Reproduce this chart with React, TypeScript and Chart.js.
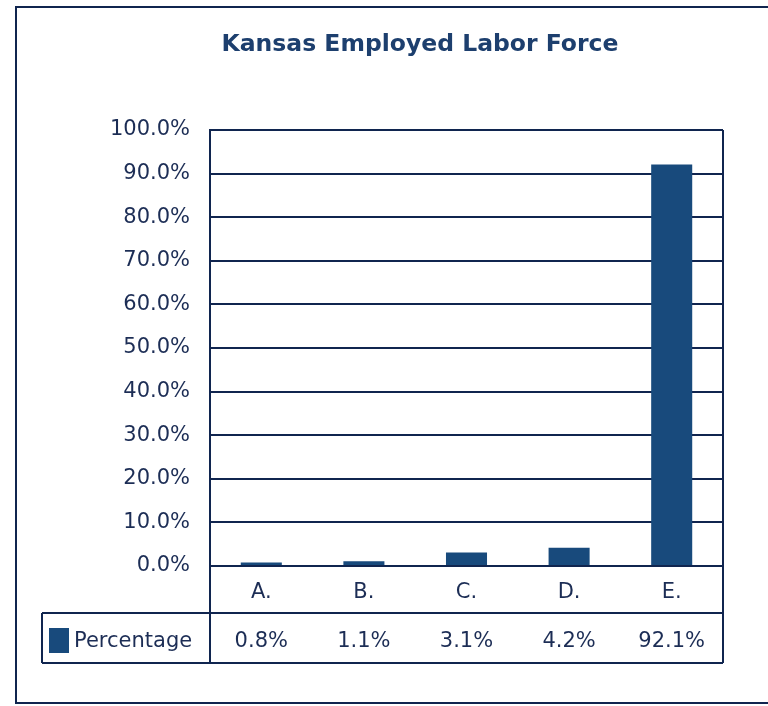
import React, { useEffect, useRef } from "react";
import { Chart, registerables } from "chart.js";

Chart.register(...registerables);

const categories = ["A.", "B.", "C.", "D.", "E."];
const seriesName = "Percentage";
const values = [0.8, 1.1, 3.1, 4.2, 92.1];
const yTicks = [0, 10, 20, 30, 40, 50, 60, 70, 80, 90, 100];
const titleText = "Kansas Employed Labor Force";

const NAVY = "#10254f";
const BAR = "#184a7c";
const TEXT = "#1c2d55";
const FONT = "'DejaVu Sans', Verdana, sans-serif";

const framePlugin = {
  id: "frame",
  beforeDraw(chart: any) {
    const ctx = chart.ctx;
    ctx.save();
    ctx.fillStyle = "#ffffff";
    ctx.fillRect(0, 0, chart.width, chart.height);
    ctx.strokeStyle = NAVY;
    ctx.lineWidth = 2;
    ctx.strokeRect(16, 7, chart.width + 10, chart.height - 10);
    // title
    ctx.fillStyle = "#1d3f6e";
    ctx.font = `bold 23.5px ${FONT}`;
    ctx.textAlign = "center";
    ctx.textBaseline = "middle";
    ctx.fillText(titleText, 420, 45);
    ctx.restore();
  },
};

const tablePlugin = {
  id: "dataTable",
  afterDraw(chart: any) {
    const ctx = chart.ctx;
    const area = chart.chartArea;
    const x = chart.scales.x;
    const rowTop = area.bottom + 47;
    const rowBottom = rowTop + 50;
    const tableLeft = 42;
    ctx.save();
    ctx.strokeStyle = NAVY;
    ctx.lineWidth = 2;
    ctx.beginPath();
    ctx.moveTo(area.left, area.bottom);
    ctx.lineTo(area.left, rowBottom);
    ctx.moveTo(area.right, area.top);
    ctx.lineTo(area.right, rowBottom);
    ctx.moveTo(tableLeft, rowTop);
    ctx.lineTo(area.right, rowTop);
    ctx.moveTo(tableLeft, rowBottom);
    ctx.lineTo(area.right, rowBottom);
    ctx.moveTo(tableLeft, rowTop);
    ctx.lineTo(tableLeft, rowBottom);
    ctx.stroke();

    ctx.fillStyle = BAR;
    ctx.fillRect(49, rowTop + 15, 20, 25);
    ctx.fillStyle = TEXT;
    ctx.font = `21px ${FONT}`;
    ctx.textBaseline = "middle";
    ctx.textAlign = "left";
    ctx.fillText(seriesName, 74, rowTop + 29);

    ctx.textAlign = "center";
    values.forEach((v, i) => {
      ctx.fillText(v.toFixed(1) + "%", x.getPixelForValue(i), rowTop + 29);
    });
    ctx.restore();
  },
};

export default function App() {
  const ref = useRef<HTMLCanvasElement>(null);
  useEffect(() => {
    if (!ref.current) return;
    const chart = new Chart(ref.current, {
      type: "bar",
      data: {
        labels: categories,
        datasets: [
          {
            label: seriesName,
            data: values,
            backgroundColor: BAR,
            borderWidth: 0,
            categoryPercentage: 1,
            barPercentage: 0.4,
          },
        ],
      },
      options: {
        responsive: false,
        animation: false,
        layout: { padding: { left: 0, right: 45, top: 130, bottom: 93 } },
        plugins: {
          legend: { display: false },
          tooltip: { enabled: false },
          title: { display: false },
        },
        scales: {
          x: {
            grid: { display: false, drawTicks: false },
            border: { display: true, color: NAVY, width: 2 },
            ticks: {
              color: TEXT,
              font: { family: FONT, size: 21 },
              padding: 14,
            },
            afterFit(axis: any) {
              axis.height = 47;
            },
          },
          y: {
            min: 0,
            max: 100,
            afterBuildTicks(axis: any) {
              axis.ticks = yTicks.map((v) => ({ value: v }));
            },
            grid: { color: NAVY, lineWidth: 2, drawTicks: false },
            border: { display: true, color: NAVY, width: 2 },
            ticks: {
              color: TEXT,
              font: { family: FONT, size: 21 },
              padding: 20,
              callback: (v: any) => Number(v).toFixed(1) + "%",
            },
            afterFit(axis: any) {
              axis.width = 210;
            },
          },
        },
      },
      plugins: [framePlugin, tablePlugin],
    });
    return () => chart.destroy();
  }, []);
  return (
    <div style={{ position: "absolute", left: 0, top: 0, width: 768, height: 706 }}>
      <canvas ref={ref} width={768} height={706} />
    </div>
  );
}
